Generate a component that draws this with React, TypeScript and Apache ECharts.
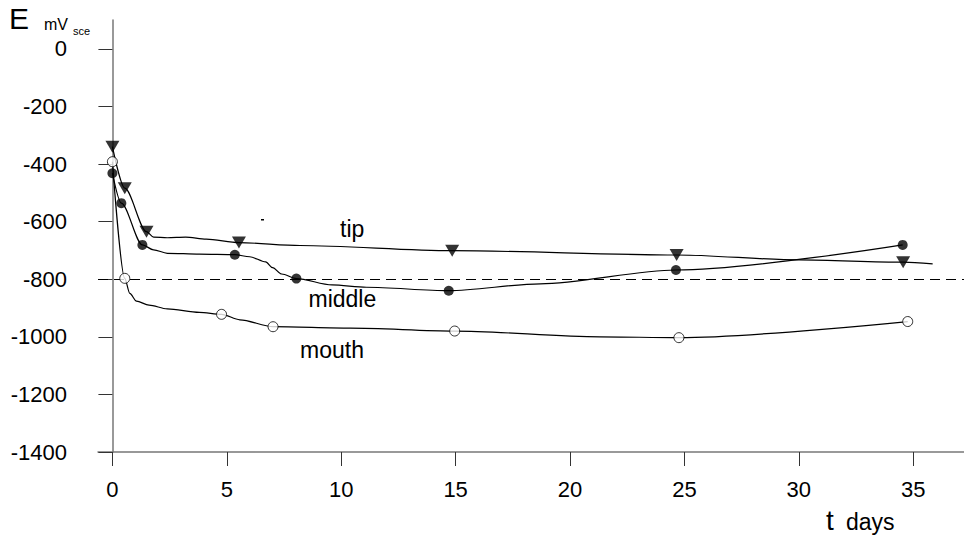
import React, { useEffect, useRef } from "react";
import * as echarts from "echarts";

// x ticks (days) and y ticks (mV)
const xTicks = [0, 5, 10, 15, 20, 25, 30, 35];
const yTicks = [-1400, -1200, -1000, -800, -600, -400, -200, 0];
const referenceLevel = -800;

// tip (triangles)
const tipMarkDays = [0, 0.54, 1.49, 5.53, 14.85, 24.66, 34.56];
const tipMarkE = [-340, -484, -635, -673, -701, -716, -741];
const tipCurveDays = [0, 0.54, 1.49, 1.8, 2.4, 3.2, 4.1, 5.53, 8.2, 14.85, 24.66, 30.05, 34.56, 35.85];
const tipCurveE = [-340, -484, -635, -654, -656, -654, -661, -673, -683, -701, -716, -733, -741, -747];

// middle (filled circles)
const middleMarkDays = [0, 0.39, 1.31, 5.35, 8.04, 14.7, 24.63, 34.54];
const middleMarkE = [-432, -536, -681, -715, -798, -840, -768, -681];
const middleCurveDays = [0, 0.39, 1.31, 1.8, 2.4, 3.8, 5.35, 6.0, 6.7, 7.0, 7.4, 8.04, 9.6, 11.1, 14.7, 18.7, 24.63, 34.54];
const middleCurveE = [-432, -536, -681, -698, -710, -713, -715, -722, -740, -760, -782, -798, -820, -828, -840, -816, -768, -681];

// mouth (open circles)
const mouthMarkDays = [0, 0.54, 4.77, 7.02, 14.96, 24.76, 34.76];
const mouthMarkE = [-392, -797, -922, -965, -980, -1003, -947];
const mouthCurveDays = [0, 0.54, 0.76, 1.05, 1.6, 2.4, 3.8, 4.77, 5.57, 7.02, 10.4, 14.96, 21.3, 24.76, 34.76];
const mouthCurveE = [-392, -797, -849, -876, -890, -903, -915, -922, -941, -965, -970, -980, -1000, -1003, -947];

const pairs = (xs: number[], ys: number[]) => xs.map((x, i) => [x, ys[i]]);

const FONT = "'Liberation Sans', Arial, sans-serif";

export default function App() {
  const ref = useRef<HTMLDivElement>(null);
  useEffect(() => {
    if (!ref.current) return;
    const chart = echarts.init(ref.current, undefined, { renderer: "svg" });
    const curveLine = {
      type: "line",
      showSymbol: false,
      symbol: "none",
      smooth: 0.3,
      smoothMonotone: "x",
      lineStyle: { color: "#000", width: 1.2 },
      z: 2,
      silent: true,
    };
    chart.setOption({
      animation: false,
      backgroundColor: "#fff",
      textStyle: { fontFamily: FONT },
      grid: { left: 98, top: 20, right: 0, bottom: 88, containLabel: false, outerBoundsMode: "none" },
      xAxis: {
        type: "value",
        min: -0.63,
        max: 37.22,
        axisLine: { onZero: false, lineStyle: { color: "#777", width: 1.5 } },
        axisTick: { show: true, length: 14, customValues: xTicks, lineStyle: { color: "#333", width: 1 } },
        axisLabel: {
          customValues: xTicks,
          margin: 26,
          color: "#000",
          fontSize: 22,
          fontFamily: FONT,
          formatter: (v: number) => String(v),
        },
        splitLine: { show: false },
      },
      yAxis: {
        type: "value",
        min: -1400,
        max: 100,
        axisLine: { show: true, onZero: true, lineStyle: { color: "#777", width: 1.5 } },
        axisTick: { show: true, length: 14, customValues: yTicks, lineStyle: { color: "#333", width: 1 } },
        axisLabel: {
          customValues: yTicks,
          margin: 31,
          color: "#000",
          fontSize: 22,
          fontFamily: FONT,
          formatter: (v: number) => String(v),
        },
        splitLine: { show: false },
      },
      series: [
        {
          ...curveLine,
          name: "tipCurve",
          data: pairs(tipCurveDays, tipCurveE),
          markLine: {
            silent: true,
            symbol: "none",
            label: { show: false },
            lineStyle: { color: "#000", width: 1.2, type: [10, 6] },
            data: [{ yAxis: referenceLevel }],
          },
        },
        { ...curveLine, name: "middleCurve", data: pairs(middleCurveDays, middleCurveE) },
        { ...curveLine, name: "mouthCurve", data: pairs(mouthCurveDays, mouthCurveE) },
        {
          type: "scatter",
          name: "tip",
          symbol: "triangle",
          symbolRotate: 180,
          symbolSize: [14, 12],
          itemStyle: { color: "#000" },
          z: 5,
          data: pairs(tipMarkDays, tipMarkE),
        },
        {
          type: "scatter",
          name: "middle",
          symbol: "circle",
          symbolSize: 10,
          itemStyle: { color: "#000" },
          z: 5,
          data: pairs(middleMarkDays, middleMarkE),
        },
        {
          type: "scatter",
          name: "mouth",
          symbol: "circle",
          symbolSize: 10,
          itemStyle: { color: "#fff", borderColor: "#000", borderWidth: 1 },
          z: 6,
          data: pairs(mouthMarkDays, mouthMarkE),
        },
      ],
      graphic: [
        { type: "text", x: 9, y: 18.9, style: { text: "E", fontSize: 30, fontFamily: FONT, fill: "#000", verticalAlign: "middle" } },
        { type: "text", x: 44, y: 24.5, style: { text: "mV", fontSize: 16, fontFamily: FONT, fill: "#000", verticalAlign: "middle" } },
        { type: "text", x: 73, y: 30.5, style: { text: "sce", fontSize: 11, fontFamily: FONT, fill: "#000", verticalAlign: "middle" } },
        { type: "text", x: 826, y: 520.3, style: { text: "t", fontSize: 28, fontFamily: FONT, fill: "#000", verticalAlign: "middle" } },
        { type: "text", x: 846, y: 522, style: { text: "days", fontSize: 23, fontFamily: FONT, fill: "#000", verticalAlign: "middle" } },
        { type: "text", x: 340, y: 229.3, style: { text: "tip", fontSize: 23, fontFamily: FONT, fill: "#000", verticalAlign: "middle" } },
        { type: "text", x: 308.5, y: 299.3, style: { text: "middle", fontSize: 23, fontFamily: FONT, fill: "#000", verticalAlign: "middle" } },
        { type: "text", x: 300, y: 350.3, style: { text: "mouth", fontSize: 23, fontFamily: FONT, fill: "#000", verticalAlign: "middle" } },
        { type: "rect", shape: { x: 261, y: 219, width: 3, height: 1.5 }, style: { fill: "#000" } },
      ],
    });
    return () => chart.dispose();
  }, []);
  return (
    <div
      ref={ref}
      style={{ position: "fixed", left: 0, top: 0, width: 964, height: 540, background: "#fff" }}
    />
  );
}
